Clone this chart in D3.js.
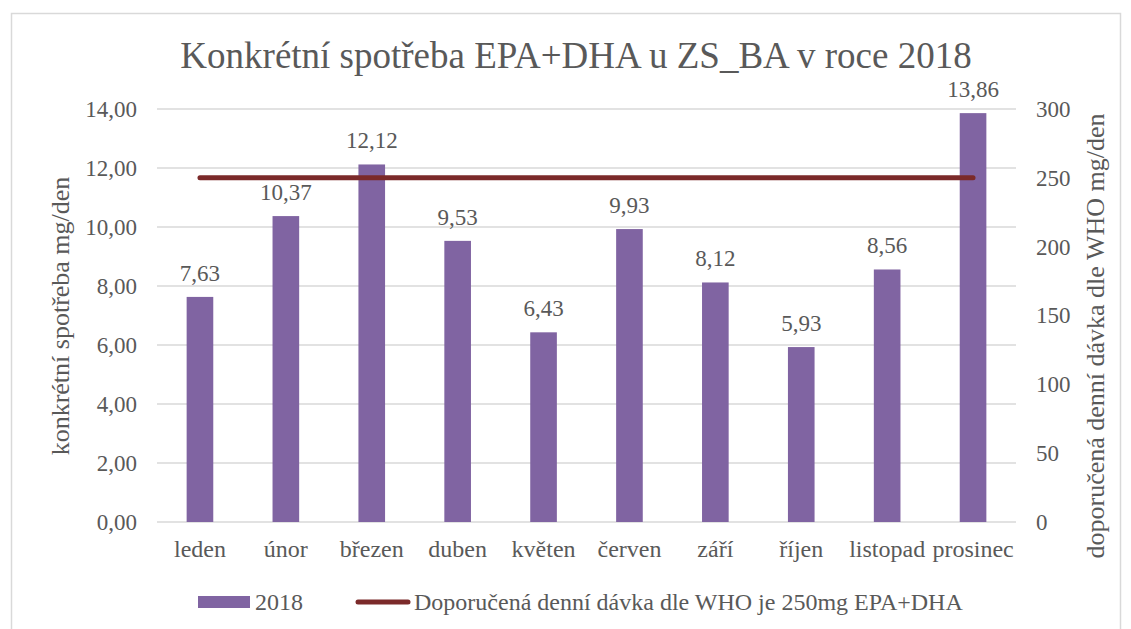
<!DOCTYPE html>
<html>
<head>
<meta charset="utf-8">
<script src="https://cdn.jsdelivr.net/npm/d3@7"></script>
<style>
  body { margin: 0; background: #fff; }
  text { font-family: "Liberation Serif", "Times New Roman", serif; fill: #595959; }
</style>
</head>
<body>
<div id="chart"></div>
<script>
// data
var months = ["leden", "únor", "březen", "duben", "květen", "červen", "září", "říjen", "listopad", "prosinec"];
var values2018 = [7.63, 10.37, 12.12, 9.53, 6.43, 9.93, 8.12, 5.93, 8.56, 13.86];
var whoDose = [250, 250, 250, 250, 250, 250, 250, 250, 250, 250];
var leftTicks = [0, 2, 4, 6, 8, 10, 12, 14];
var rightTicks = [0, 50, 100, 150, 200, 250, 300];

var width = 1131, height = 629;
var plot = {left: 157, right: 1016, top: 109, bottom: 522};

var svg = d3.select("#chart").append("svg")
  .attr("width", width)
  .attr("height", height)
  .attr("font-family", "Liberation Serif");

// chart frame
svg.append("rect")
  .attr("x", 11.5).attr("y", 13.5)
  .attr("width", 1109).attr("height", 640)
  .attr("fill", "none")
  .attr("stroke", "#d9d9d9")
  .attr("stroke-width", 1.5);

var x = d3.scaleBand().domain(months).range([plot.left, plot.right]).paddingInner(0.69).paddingOuter(0.345);
var y = d3.scaleLinear().domain([0, 14]).range([plot.bottom, plot.top]);
var y2 = d3.scaleLinear().domain([0, 300]).range([plot.bottom, plot.top]);
var fmt = function(v){ return d3.format(".2f")(v).replace(".", ","); };

// gridlines
svg.append("g").selectAll("line")
  .data(leftTicks)
  .enter().append("line")
  .attr("x1", plot.left).attr("x2", plot.right)
  .attr("y1", function(d){ return y(d); })
  .attr("y2", function(d){ return y(d); })
  .attr("stroke", "#d9d9d9")
  .attr("stroke-width", 1.5);

// left axis labels
var yAxis = d3.axisLeft(y).tickValues(leftTicks).tickFormat(fmt).tickSize(0).tickPadding(20);
var gl = svg.append("g").attr("transform", "translate(" + plot.left + ",0)").call(yAxis);
gl.attr("font-family", "Liberation Serif");
gl.select(".domain").remove();
gl.selectAll("text").attr("font-size", "23px").attr("fill", "#595959");

// right axis labels
var y2Axis = d3.axisRight(y2).tickValues(rightTicks).tickFormat(d3.format("d")).tickSize(0).tickPadding(20);
var gr = svg.append("g").attr("transform", "translate(" + plot.right + ",0)").call(y2Axis);
gr.attr("font-family", "Liberation Serif");
gr.select(".domain").remove();
gr.selectAll("text").attr("font-size", "23px").attr("fill", "#595959");

// category labels
var xAxis = d3.axisBottom(x).tickSize(0).tickPadding(18);
var gx = svg.append("g").attr("transform", "translate(0," + plot.bottom + ")").call(xAxis);
gx.attr("font-family", "Liberation Serif");
gx.select(".domain").remove();
gx.selectAll("text").attr("font-size", "24px").attr("fill", "#595959");

// bars
svg.append("g").selectAll("rect")
  .data(values2018)
  .enter().append("rect")
  .attr("x", function(d, i){ return x(months[i]); })
  .attr("y", function(d){ return y(d); })
  .attr("width", x.bandwidth())
  .attr("height", function(d){ return y(0) - y(d); })
  .attr("fill", "#8064a2");

// bar value labels
svg.append("g").selectAll("text")
  .data(values2018)
  .enter().append("text")
  .attr("x", function(d, i){ return x(months[i]) + x.bandwidth() / 2; })
  .attr("y", function(d){ return y(d) - 16; })
  .attr("text-anchor", "middle")
  .attr("font-size", "23px")
  .text(fmt);

// WHO line on the right axis
var line = d3.line()
  .x(function(d, i){ return x(months[i]) + x.bandwidth() / 2; })
  .y(function(d){ return y2(d); });
svg.append("path")
  .datum(whoDose)
  .attr("d", line)
  .attr("fill", "none")
  .attr("stroke", "#7b2a2a")
  .attr("stroke-width", 5)
  .attr("stroke-linecap", "round");

// title
svg.append("text")
  .attr("x", 576).attr("y", 68)
  .attr("text-anchor", "middle")
  .attr("font-size", "37px")
  .text("Konkrétní spotřeba EPA+DHA u ZS_BA v roce 2018");

// axis titles
svg.append("text")
  .attr("transform", "translate(69,316) rotate(-90)")
  .attr("text-anchor", "middle")
  .attr("font-size", "26px")
  .text("konkrétní spotřeba mg/den");
svg.append("text")
  .attr("transform", "translate(1104,336) rotate(-90)")
  .attr("text-anchor", "middle")
  .attr("font-size", "26px")
  .text("doporučená denní dávka dle WHO mg/den");

// legend
var lg = svg.append("g");
lg.append("rect").attr("x", 198).attr("y", 596).attr("width", 52).attr("height", 12).attr("fill", "#8064a2");
lg.append("text").attr("x", 255).attr("y", 610).attr("font-size", "24px").text("2018");
lg.append("line").attr("x1", 358).attr("x2", 408).attr("y1", 602).attr("y2", 602)
  .attr("stroke", "#7b2a2a").attr("stroke-width", 5).attr("stroke-linecap", "round");
lg.append("text").attr("x", 414).attr("y", 610).attr("font-size", "24px")
  .text("Doporučená denní dávka dle WHO je 250mg EPA+DHA");
</script>
</body>
</html>
